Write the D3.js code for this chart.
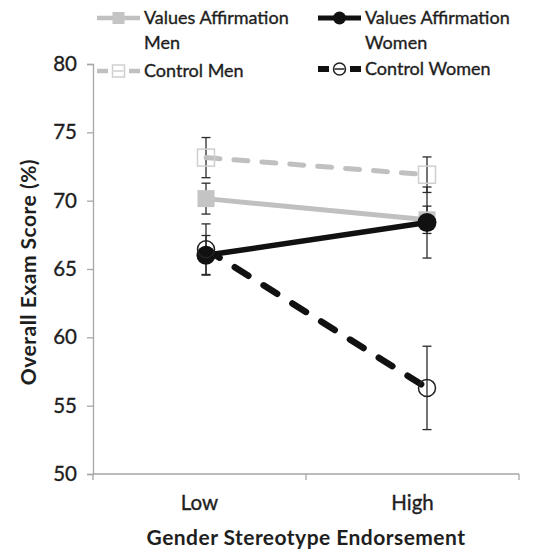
<!DOCTYPE html>
<html>
<head>
<meta charset="utf-8">
<script src="https://cdn.jsdelivr.net/npm/d3@7"></script>
<style>
  html, body { margin: 0; padding: 0; background: #fff; }
  svg { display: block; font-family: Lato, "Open Sans", sans-serif; }
</style>
</head>
<body>
<svg id="chart" width="542" height="553"></svg>
<script>
// Exam score by gender-stereotype endorsement, four groups
const categories = ["Low", "High"];
const yTicks = [50, 55, 60, 65, 70, 75, 80];

const vaMen = [70.15, 68.6];
const vaMenErr = [1.13, 1.0];
const vaWomen = [66.0, 68.4];
const vaWomenErr = [1.45, 2.6];
const controlMen = [73.15, 71.9];
const controlMenErr = [1.47, 1.3];
const controlWomen = [66.45, 56.3];
const controlWomenErr = [1.85, 3.05];

const svg = d3.select("#chart");

const plot = { left: 93, right: 519, top: 64, bottom: 474 };

const y = d3.scaleLinear().domain([50, 80]).range([plot.bottom, plot.top]);
const xBand = d3.scaleBand().domain(categories).range([plot.left, plot.right]);
const xPt = d3.scalePoint().domain(categories).range([206, 427]);

const axisColor = "#a6a6a6";
const textColor = "#1e1e1e";

function heavy(sel) {
  return sel.attr("stroke", textColor).attr("stroke-width", 0.35);
}

// y axis
const yAxis = svg.append("g")
  .attr("transform", `translate(${plot.left},0)`)
  .call(d3.axisLeft(y).tickValues(yTicks).tickSize(6).tickPadding(10));
yAxis.select(".domain").attr("stroke", axisColor).attr("stroke-width", 1.3);
yAxis.selectAll(".tick line").attr("stroke", axisColor).attr("stroke-width", 1.3);
heavy(yAxis.selectAll(".tick text")
  .attr("fill", textColor).attr("font-size", 20.5).attr("font-family", "Lato"));

// x axis: ticks sit on category boundaries
const xAxisG = svg.append("g").attr("transform", `translate(0,${plot.bottom})`);
xAxisG.append("line")
  .attr("x1", plot.left).attr("x2", plot.right)
  .attr("stroke", axisColor).attr("stroke-width", 1.3);
const boundaries = [plot.left].concat(categories.map(c => xBand(c) + xBand.bandwidth()));
xAxisG.selectAll("line.tk").data(boundaries).enter().append("line")
  .attr("class", "tk")
  .attr("x1", d => d).attr("x2", d => d)
  .attr("y1", 0).attr("y2", 6)
  .attr("stroke", axisColor).attr("stroke-width", 1.3);
heavy(xAxisG.selectAll("text").data(categories).enter().append("text")
  .attr("x", d => xBand(d) + xBand.bandwidth() / 2)
  .attr("y", 36)
  .attr("text-anchor", "middle")
  .attr("fill", textColor).attr("font-size", 20.5)
  .text(d => d));

// axis titles
svg.append("text")
  .attr("x", 306).attr("y", 545)
  .attr("text-anchor", "middle")
  .attr("font-weight", "bold").attr("font-size", 21)
  .attr("letter-spacing", 0.45)
  .attr("fill", textColor)
  .text("Gender Stereotype Endorsement");
svg.append("text")
  .attr("transform", "translate(36,272) rotate(-90)")
  .attr("text-anchor", "middle")
  .attr("font-weight", "bold").attr("font-size", 21)
  .attr("letter-spacing", 0.5)
  .attr("fill", textColor)
  .text("Overall Exam Score (%)");

const gray = "#c0c0c0";
const black = "#111";

const series = [
  { name: "vaMen", vals: vaMen, err: vaMenErr, color: gray, width: 5, dash: null, marker: "squareFilled" },
  { name: "controlMen", vals: controlMen, err: controlMenErr, color: gray, width: 5, dash: "14,14", marker: "squareOpen" },
  { name: "vaWomen", vals: vaWomen, err: vaWomenErr, color: black, width: 5.5, dash: null, marker: "circleFilled" },
  { name: "controlWomen", vals: controlWomen, err: controlWomenErr, color: black, width: 6.5, dash: "16,18", marker: "circleOpen" }
];

const line = d3.line().x(d => xPt(d.c)).y(d => y(d.v));

function drawMarker(g, kind, cx, cy, big) {
  const s = big ? 17 : 12;
  const r = big ? 9.5 : 6.5;
  if (kind === "squareFilled") {
    g.append("rect").attr("x", cx - s / 2).attr("y", cy - s / 2)
      .attr("width", s).attr("height", s).attr("fill", "#c4c4c4");
  } else if (kind === "squareOpen") {
    g.append("rect").attr("x", cx - s / 2).attr("y", cy - s / 2)
      .attr("width", s).attr("height", s).attr("fill", "none")
      .attr("stroke", "#cfcfcf").attr("stroke-width", 1.5);
  } else if (kind === "circleFilled") {
    g.append("circle").attr("cx", cx).attr("cy", cy).attr("r", r).attr("fill", black);
  } else {
    g.append("circle").attr("cx", cx).attr("cy", cy).attr("r", big ? 8.5 : 6)
      .attr("fill", "none").attr("stroke", "#222").attr("stroke-width", 1.5);
  }
}

// error bars
const errG = svg.append("g");
series.forEach(s => {
  categories.forEach((c, i) => {
    const x0 = xPt(c);
    const top = y(s.vals[i] + s.err[i]);
    const bot = y(s.vals[i] - s.err[i]);
    errG.append("line").attr("x1", x0).attr("x2", x0).attr("y1", top).attr("y2", bot)
      .attr("stroke", "#2a2a2a").attr("stroke-width", 1.3);
    [top, bot].forEach(yy => {
      errG.append("line").attr("x1", x0 - 4.5).attr("x2", x0 + 4.5).attr("y1", yy).attr("y2", yy)
        .attr("stroke", "#2a2a2a").attr("stroke-width", 1.3);
    });
  });
});

// lines and markers
series.forEach(s => {
  const g = svg.append("g");
  const pts = categories.map((c, i) => ({ c, v: s.vals[i] }));
  g.append("path").datum(pts).attr("d", line)
    .attr("fill", "none").attr("stroke", s.color).attr("stroke-width", s.width)
    .attr("stroke-linecap", "round")
    .attr("stroke-dasharray", s.dash);
  pts.forEach(p => drawMarker(g, s.marker, xPt(p.c), y(p.v), true));
});

// legend
const legend = [
  { s: series[0], x: 97, y: 18, lines: ["Values Affirmation", "Men"] },
  { s: series[2], x: 318, y: 18, lines: ["Values Affirmation", "Women"] },
  { s: series[1], x: 97, y: 71, lines: ["Control Men"] },
  { s: series[3], x: 318, y: 69, lines: ["Control Women"] }
];
legend.forEach(L => {
  const g = svg.append("g");
  const w = 43;
  g.append("line").attr("x1", L.x).attr("x2", L.x + w).attr("y1", L.y).attr("y2", L.y)
    .attr("stroke", L.s.color).attr("stroke-width", L.s.width - 0.5)
    .attr("stroke-dasharray", L.s.dash ? "11,21" : null);
  drawMarker(g, L.s.marker, L.x + w / 2, L.y, false);
  if (L.s.dash) {
    // short stroke through the hollow legend marker
    g.append("line").attr("x1", L.x + w / 2 - 5).attr("x2", L.x + w / 2 + 5)
      .attr("y1", L.y).attr("y2", L.y)
      .attr("stroke", L.s.marker === "circleOpen" ? "#222" : "#cfcfcf").attr("stroke-width", 1.5);
  }
  L.lines.forEach((t, k) => {
    heavy(g.append("text").attr("x", L.x + w + 4).attr("y", L.y + 6 + k * 25)
      .attr("fill", textColor).attr("font-size", 18)
      .text(t));
  });
});
</script>
</body>
</html>
